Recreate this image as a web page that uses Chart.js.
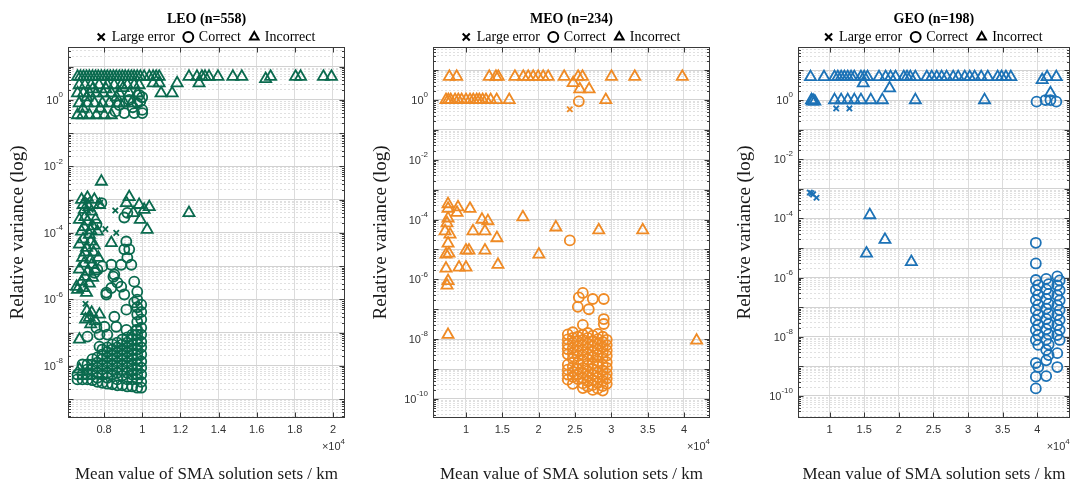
<!DOCTYPE html>
<html>
<head>
<meta charset="utf-8">
<script src="https://cdn.jsdelivr.net/npm/chart.js@4.4.0/dist/chart.umd.min.js"></script>
<style>
  body { margin: 0; background: #fff; }
  .panel { position: absolute; top: 0; height: 484px; }
</style>
</head>
<body>
<div class="panel" style="left:0;width:360px"><canvas id="leo"></canvas></div>
<div class="panel" style="left:360px;width:360px"><canvas id="meo"></canvas></div>
<div class="panel" style="left:720px;width:358px"><canvas id="geo"></canvas></div>
<script>
// x in km, y = relative variance
const leoXTicks = [8000, 10000, 12000, 14000, 16000, 18000, 20000];
const meoXTicks = [10000, 15000, 20000, 25000, 30000, 35000, 40000];
const geoXTicks = [10000, 15000, 20000, 25000, 30000, 35000, 40000];

// ---- LEO ----
const leoLarge = [[7130,1e-3],[7300,5e-4],[7800,8e-4],[8070,1.3e-4],[8590,4.7e-4],[8640,1e-4],[7025,7.4e-7]];

const leoIncTop = [6610,6760,6920,7080,7230,7390,7550,7700,7860,8020,8170,8330,8490,8640,8800,8960,9110,9270,
  9430,9580,9740,9900,10100,10370,10570,10730,10890,12450,12870,13130,13290,13500,13970,14750,15220,16730,18040,18300,19500,19920];
const leoIncorrect = [
  [16470,4.3],[10570,3.2],[10890,3.2],[11830,3.2],[12980,3.2],[10990,1.6],[11570,1.6],
  [6700,2.8],[7000,2.8],[7320,2.8],[7740,2.8],[8170,2.8],[8530,2.8],[8900,2.8],[9220,2.8],[9580,2.8],[9840,2.8],
  [6610,1.6],[6920,1.6],[7230,1.6],[7600,1.6],[7960,1.6],[8380,1.6],[8800,1.6],[9320,1.6],[9740,1.6],
  [6700,0.8],[7130,0.8],[7500,0.8],[7910,0.8],[8280,0.8],[8690,0.8],[9060,0.8],[9430,0.8],
  [6610,0.35],[6870,0.35],[7230,0.35],[7600,0.35],[8020,0.35],[8380,0.35],
  [7400,2.1],[8100,2.1],[8650,1.2],[7100,1.2],[9000,2.3],[7800,0.55],[6900,0.55],
  [7860,3.5e-3],[9320,1.2e-3],[9170,8e-4],[9840,7e-4],[10100,5e-4],[9530,4e-4],[10370,6e-4],[9900,2.5e-4],
  [12450,4e-4],[10260,1.25e-4],[8380,5e-5],
  [6820,1e-3],[7130,1.15e-3],[7490,1e-3],[7760,7e-4],[6970,5e-4],[7340,4.4e-4],[6710,2.5e-4],[7130,2.2e-4],
  [7550,2.5e-4],[6820,1.1e-4],[7230,8.9e-5],[7650,1.1e-4],[6710,4.5e-5],[7080,3.6e-5],[7490,4.2e-5],[6870,1.8e-5],
  [7290,1.6e-5],[7700,1.8e-5],[6710,8e-6],[7130,6.8e-6],[7550,8e-6],[6820,3.4e-6],[7230,3e-6],[6610,1.95e-6],
  [7080,1.6e-6],[6560,2.4e-6],[7030,2.5e-7],[7230,2.8e-7],[7760,3.5e-7],[7350,4e-7],[7550,2.2e-7],
  [6900,7e-4],[7200,6e-4],[7000,3e-4],[7400,1.6e-4],[6950,1.5e-4],[7300,1.2e-4],[6900,6.5e-5],[7300,5.5e-5],
  [7000,2.6e-5],[7450,2.6e-5],[6950,1.2e-5],[7350,1.1e-5],[7000,4.8e-6],[7400,4.5e-6],[6900,2.2e-6],
  [7100,4.5e-7],[7300,1.8e-7],
  [6710,6.2e-8],[6710,7.8e-9]
];
const leoCorrect = [
  [9320,1.0],[9740,0.8],[10000,0.5],[10000,0.4],[9580,0.4],[9060,0.4],[9840,1.4],[10000,1.2],[8800,0.7],
  [9500,0.6],[8600,0.45],[9900,0.9],
  [7600,1.8e-4],[9060,2.9e-4],[9220,4e-4],[7860,7.9e-4],[9165,5.5e-5],[9320,3.2e-5],[9060,3.2e-5],[9220,1.8e-5],
  [8900,1.1e-5],[9430,1.1e-5],[8380,1.1e-5],[7910,9.8e-6],[7500,6.3e-6],[8490,4.8e-6],[8700,3.2e-6],[8900,2.4e-6],
  [9580,3.4e-6],[7650,7.8e-6],[9740,1.7e-6],[8380,2.2e-6],[8120,1.6e-6],[8540,5.6e-6],[8120,1.4e-6],[9060,1.4e-6],
  [9580,8.1e-7],[9170,4.9e-7],[8540,3e-7],[8020,1.5e-7],[7760,8.7e-8],[7600,1.4e-7],[8170,8.7e-8],[7130,7.6e-8],
  [8640,1.5e-7],[9170,1.2e-7],[9690,1.2e-7],[7760,3.8e-8]
];
const leoCorrectCols = [
  [6607, [5.5e-9, 3.9e-9]],
  [6868, [1.1e-8, 5.5e-9, 3.9e-9]],
  [7129, [1.1e-8, 7.8e-9, 5.5e-9, 3.9e-9]],
  [7390, [1.6e-8, 1.1e-8, 7.8e-9, 5.5e-9, 3.7e-9]],
  [7651, [1.8e-8, 1.25e-8, 8.8e-9, 6.2e-9, 4.4e-9, 3.3e-9]],
  [7912, [3.1e-8, 2.2e-8, 1.6e-8, 1.1e-8, 7.8e-9, 5.5e-9, 3.1e-9]],
  [8173, [3.6e-8, 2.6e-8, 1.8e-8, 1.25e-8, 8.8e-9, 6.2e-9, 4.4e-9, 2.9e-9]],
  [8434, [4.4e-8, 3.1e-8, 2.2e-8, 1.6e-8, 1.1e-8, 7.8e-9, 5.5e-9, 2.8e-9]],
  [8695, [5e-8, 3.6e-8, 2.6e-8, 1.8e-8, 1.25e-8, 8.8e-9, 6.2e-9, 3.9e-9, 2.6e-9]],
  [8956, [6.2e-8, 4.4e-8, 3.1e-8, 2.2e-8, 1.6e-8, 1.1e-8, 7.8e-9, 5.1e-9, 2.6e-9]],
  [9217, [7.2e-8, 5e-8, 3.6e-8, 2.6e-8, 1.8e-8, 1.25e-8, 8.8e-9, 6.2e-9, 3.9e-9, 2.4e-9]],
  [9478, [8.7e-8, 6.2e-8, 4.4e-8, 3.1e-8, 2.2e-8, 1.6e-8, 1.1e-8, 7.8e-9, 5.5e-9, 3.9e-9, 2.4e-9]],
  [9739, [9.8e-7, 5.8e-7, 3.5e-7, 2.1e-7, 1.2e-7, 8.7e-8, 6.2e-8, 4.4e-8, 3.1e-8, 2.2e-8, 1.6e-8, 1.1e-8, 7.8e-9, 5.5e-9, 3.9e-9, 2.2e-9]],
  [9948, [6.9e-7, 4.2e-7, 2.5e-7, 1.4e-7, 8.7e-8, 5.3e-8, 3.6e-8, 2.2e-8, 1.35e-8, 8.8e-9, 5.5e-9, 3.3e-9, 2.2e-9]]
];

// ---- MEO ----
const meoLarge = [[24290,0.49]];
const meoIncTop = [7710,8720,13200,14120,14440,16730,17880,18560,19250,19930,20620,21310,23510,25430,26030,30020,33220,39770];
const meoIncOne = [7250,7570,7900,8490,8940,9400,10000,10550,11000,11470,11830,12290,12750,13390,14220,15950,29240];
const meoIncorrect = [
  [24750,3.7],[25660,2.3],[26940,2.3],
  [7530,3.3e-4],[7530,2.3e-4],[8900,2.6e-4],[8760,1.7e-4],[10550,2.3e-4],[12200,1e-4],[13020,8.9e-5],[10960,4.1e-5],
  [12610,4.1e-5],[14260,2.4e-5],[17830,1.2e-4],[22370,5.5e-5],[28270,4.4e-5],[34320,4.4e-5],[7390,7.6e-5],[7530,1.1e-4],
  [7120,4.1e-5],[7800,3.2e-5],[7530,1.6e-5],[7250,6.8e-6],[7660,7.3e-6],[10000,9.3e-6],[10410,9.3e-6],[12610,9.3e-6],
  [9040,2.5e-6],[10000,2.5e-6],[14400,3.1e-6],[20030,6.8e-6],[7250,2.3e-6],[7530,8.9e-7],[7390,6.3e-7],
  [7530,1.4e-8],[41740,9e-9]
];
const meoCorrect = [
  [25530,0.9],[24290,2e-5],[26080,3.5e-7],[25530,2.5e-7],[25390,1.2e-7],[26900,1e-7],[27450,2.2e-7],[28960,2.2e-7],
  [28960,4.7e-8],[28960,3.2e-8],[26080,3e-8]
];
const meoCorrectCols = [
  [24010, [1.45e-8, 9.8e-9, 6.6e-9, 4.6e-9, 3.1e-9, 1.4e-9, 9.5e-10, 6.5e-10, 4.4e-10]],
  [24700, [1.7e-8, 1.1e-8, 7.5e-9, 5e-9, 3.4e-9, 2.2e-9, 1.2e-9, 8e-10, 5.5e-10, 3.2e-10]],
  [25390, [1.2e-8, 8.5e-9, 5.8e-9, 4e-9, 2.7e-9, 1.6e-9, 1e-9, 6.8e-10, 4.6e-10]],
  [26080, [1.4e-8, 9.5e-9, 6.4e-9, 4.3e-9, 2.9e-9, 1.9e-9, 1.1e-9, 7.5e-10, 5e-10, 3.3e-10, 2.3e-10]],
  [26760, [1.6e-8, 1.1e-8, 7.2e-9, 4.8e-9, 3.2e-9, 2.1e-9, 1.3e-9, 8.5e-10, 5.8e-10, 3.9e-10, 2.6e-10]],
  [27450, [1.3e-8, 8.8e-9, 5.9e-9, 4e-9, 2.6e-9, 1.5e-9, 1e-9, 6.5e-10, 4.3e-10, 2.9e-10, 2e-10]],
  [28140, [1.5e-8, 1e-8, 6.8e-9, 4.5e-9, 3e-9, 1.8e-9, 1.2e-9, 7.8e-10, 5.2e-10, 3.4e-10, 2.2e-10]],
  [28820, [1.2e-8, 8e-9, 5.4e-9, 3.6e-9, 2.4e-9, 1.4e-9, 9e-10, 6e-10, 4e-10, 2.7e-10, 1.9e-10]],
  [29370, [9.5e-9, 6.3e-9, 4.2e-9, 2.8e-9, 1.7e-9, 1.1e-9, 7e-10, 4.8e-10, 3.2e-10]]
];

// ---- GEO ----
const geoLarge = [[10950,0.52],[12860,0.52],[7380,7e-4],[7620,6.5e-4],[8100,5e-4],[7140,7.5e-4]];
const geoIncTop = [7240,9190,10710,11190,11670,12140,12620,13100,13570,14530,15000,15480,17140,18100,18810,19530,20720,
  21190,21670,22390,24050,24760,25480,26190,26910,27860,28580,29530,30250,30960,31910,32860,34290,34860,35480,36190,41430,42760];
const geoIncorrect = [
  [40720,4.8],[14860,3.7],[18670,2.5],[41910,1.7],
  [7380,1.0],[7500,0.9],[7620,0.95],[7860,0.9],[10710,1.0],[11670,1.0],[12620,1.0],[13570,1.0],[14530,1.0],
  [15950,1.0],[17620,1.0],[22390,1.0],[32390,1.0],
  [15810,1.3e-4],[18000,1.9e-5],[15330,6.6e-6],[21810,3.4e-6]
];
const geoCorrect = [[39910,0.88],[41200,1.0],[41910,1.0],[42760,0.88]];
const geoCorrectCols = [
  [39800, [1.5e-5, 3e-6, 8.3e-7, 3.8e-7, 1.75e-7, 8.1e-8, 3.7e-8, 1.7e-8, 7.8e-9, 1.3e-9, 4.5e-10, 1.8e-10]],
  [40150, [5.6e-7, 2.6e-7, 1.2e-7, 5.5e-8, 2.5e-8, 1.15e-8, 5.3e-9, 9.5e-10]],
  [41300, [9e-7, 4e-7, 1.9e-7, 9e-8, 4e-8, 1.8e-8, 8e-9, 3.6e-9, 1.6e-9, 4.7e-10]],
  [41650, [6e-7, 2.8e-7, 1.3e-7, 6e-8, 2.7e-8, 1.2e-8, 5.5e-9, 2.4e-9]],
  [42900, [1.1e-6, 5.5e-7, 2.5e-7, 1.15e-7, 5.5e-8, 2.5e-8, 1.15e-8, 2.8e-9, 9.5e-10]],
  [43250, [8e-7, 3.7e-7, 1.7e-7, 8e-8, 3.7e-8, 1.7e-8, 7.8e-9]]
];

const serif = '"Liberation Serif", "Times New Roman", serif';
const sans = '"Liberation Sans", Arial, sans-serif';

// flatten helpers: column lists and single-value rows into {x, y}
const pts = list => list.map(([x, y]) => ({x, y}));
const fromCols = cols => cols.flatMap(([x, ys]) => ys.map(y => ({x, y})));
const fromRow = (xs, y) => xs.map(x => ({x, y}));

const panels = [
  { id: 'leo', title: 'LEO (n=558)', color: '#0a6a4e',
    large: pts(leoLarge),
    correct: pts(leoCorrect).concat(fromCols(leoCorrectCols)),
    incorrect: fromRow(leoIncTop, 5).concat(pts(leoIncorrect)),
    xMin: 6110, xMax: 20630, yMin: 2.7e-10, yMax: 39, xTicks: leoXTicks,
    axisW: 68, padRight: 15, yTitlePad: 7 },
  { id: 'meo', title: 'MEO (n=234)', color: '#ef8a24',
    large: pts(meoLarge),
    correct: pts(meoCorrect).concat(fromCols(meoCorrectCols)),
    incorrect: fromRow(meoIncTop, 6).concat(fromRow(meoIncOne, 1), pts(meoIncorrect)),
    xMin: 5460, xMax: 43580, yMin: 2.3e-11, yMax: 59, xTicks: meoXTicks,
    axisW: 73, padRight: 10, yTitlePad: 9.5 },
  { id: 'geo', title: 'GEO (n=198)', color: '#1c72b6',
    large: pts(geoLarge),
    correct: pts(geoCorrect).concat(fromCols(geoCorrectCols)),
    incorrect: fromRow(geoIncTop, 6).concat(pts(geoIncorrect)),
    xMin: 5430, xMax: 44710, yMin: 1.8e-11, yMax: 62, xTicks: geoXTicks,
    axisW: 78, padRight: 5, yTitlePad: 14 }
];

// MATLAB-like box, inward ticks, 10^n labels and the x10^4 multiplier
const framePlugin = {
  id: 'frame',
  afterDraw(chart) {
    const {ctx, chartArea: a, scales: {x, y}} = chart;
    const L = Math.round(a.left) + 0.5, R = Math.round(a.right) - 0.5;
    const T = Math.round(a.top) + 0.5, B = Math.round(a.bottom) - 0.5;
    ctx.save();
    ctx.strokeStyle = '#3a3a3a';
    ctx.lineWidth = 1;
    ctx.strokeRect(L, T, R - L, B - T);
    ctx.beginPath();
    y.ticks.forEach(t => {
      const py = Math.round(y.getPixelForValue(t.value)) + 0.5;
      const len = t.major ? 5 : 2.5;
      ctx.moveTo(L, py); ctx.lineTo(L + len, py);
      ctx.moveTo(R, py); ctx.lineTo(R - len, py);
    });
    x.ticks.forEach(t => {
      const px = Math.round(x.getPixelForValue(t.value)) + 0.5;
      ctx.moveTo(px, B); ctx.lineTo(px, B - 5);
      ctx.moveTo(px, T); ctx.lineTo(px, T + 5);
    });
    ctx.stroke();

    ctx.fillStyle = '#333';
    ctx.textBaseline = 'middle';
    y.ticks.forEach(t => {
      if (!t.major) return;
      const e = Math.round(Math.log10(t.value));
      if (e % 2 !== 0) return;
      const py = y.getPixelForValue(t.value);
      ctx.font = '8px ' + sans;
      const ew = ctx.measureText(String(e)).width;
      const xr = a.left - 5;
      ctx.textAlign = 'left';
      ctx.fillText(String(e), xr - ew, py - 5);
      ctx.font = '11px ' + sans;
      ctx.textAlign = 'right';
      ctx.fillText('10', xr - ew, py + 1);
    });

    ctx.font = '8px ' + sans;
    const w4 = ctx.measureText('4').width;
    ctx.textAlign = 'left';
    ctx.fillText('4', a.right - w4, 442);
    ctx.font = '11px ' + sans;
    ctx.textAlign = 'right';
    ctx.fillText('\u00d710', a.right - w4, 447);
    ctx.restore();
  }
};

function dataset(label, data, style, r, color, order) {
  return {
    label, data, order,
    pointStyle: style,
    pointRadius: r,
    pointHoverRadius: r,
    pointBorderWidth: 1.8,
    pointBackgroundColor: 'rgba(0,0,0,0)',
    borderColor: color,
    backgroundColor: 'rgba(0,0,0,0)'
  };
}

function makePanel(p) {
  new Chart(document.getElementById(p.id), {
    type: 'scatter',
    data: {
      datasets: [
        dataset('Large error', p.large, 'crossRot', 3.8, p.color, 0),
        dataset('Correct', p.correct, 'circle', 5, p.color, 2),
        dataset('Incorrect', p.incorrect, 'triangle', 6.4, p.color, 1)
      ]
    },
    plugins: [framePlugin],
    options: {
      responsive: true,
      maintainAspectRatio: false,
      devicePixelRatio: 1,
      animation: false,
      layout: { padding: { left: 0, right: p.padRight, top: 0, bottom: 0 } },
      plugins: {
        tooltip: { enabled: false },
        title: {
          display: true, text: p.title, color: '#000', fullSize: false,
          font: { family: serif, size: 14, weight: 'bold', lineHeight: 1 },
          padding: { top: 12, bottom: -6 }
        },
        legend: {
          display: true, fullSize: false, maxHeight: 27,
          labels: {
            usePointStyle: true, boxWidth: 7, boxHeight: 7, padding: 10, color: '#000',
            font: { family: serif, size: 14 },
            generateLabels: chart => chart.data.datasets.map((d, i) => ({
              text: d.label, pointStyle: d.pointStyle, fillStyle: 'rgba(0,0,0,0)',
              strokeStyle: '#000', lineWidth: 2, hidden: false, datasetIndex: i, fontColor: '#000'
            }))
          }
        }
      },
      scales: {
        x: {
          type: 'linear', min: p.xMin, max: p.xMax,
          afterFit: s => { s.height = 66; },
          afterBuildTicks: s => { s.ticks = p.xTicks.map(v => ({value: v})); },
          grid: { color: '#dcdcdc', lineWidth: 1, drawTicks: false },
          border: { display: false },
          ticks: {
            autoSkip: false, maxRotation: 0, padding: 5, color: '#333',
            font: { family: sans, size: 11 },
            callback: v => String(v / 10000)
          },
          title: {
            display: true, text: 'Mean value of SMA solution sets / km', color: '#1a1a1a',
            font: { family: serif, size: 17 }, padding: { top: 0, bottom: -1 }
          }
        },
        y: {
          type: 'logarithmic', min: p.yMin, max: p.yMax,
          afterFit: s => { s.width = p.axisW; },
          afterBuildTicks: s => {
            const t = [];
            for (let k = -12; k <= 2; k++) {
              for (let m = 1; m <= 9; m++) {
                const v = m * Math.pow(10, k);
                if (v >= s.min && v <= s.max) t.push({value: v, major: m === 1});
              }
            }
            s.ticks = t;
          },
          grid: {
            drawTicks: false, lineWidth: 1,
            color: c => (c.tick && c.tick.major) ? '#d2d2d2' : '#e0e0e0'
          },
          border: { display: false, dash: c => (c.tick && c.tick.major) ? [] : [2, 2] },
          ticks: { display: false },
          title: {
            display: true, text: 'Relative variance (log)', color: '#1a1a1a',
            font: { family: serif, size: 19 }, padding: { top: p.yTitlePad, bottom: 0 }
          }
        }
      }
    }
  });
}

panels.forEach(makePanel);
</script>
</body>
</html>
